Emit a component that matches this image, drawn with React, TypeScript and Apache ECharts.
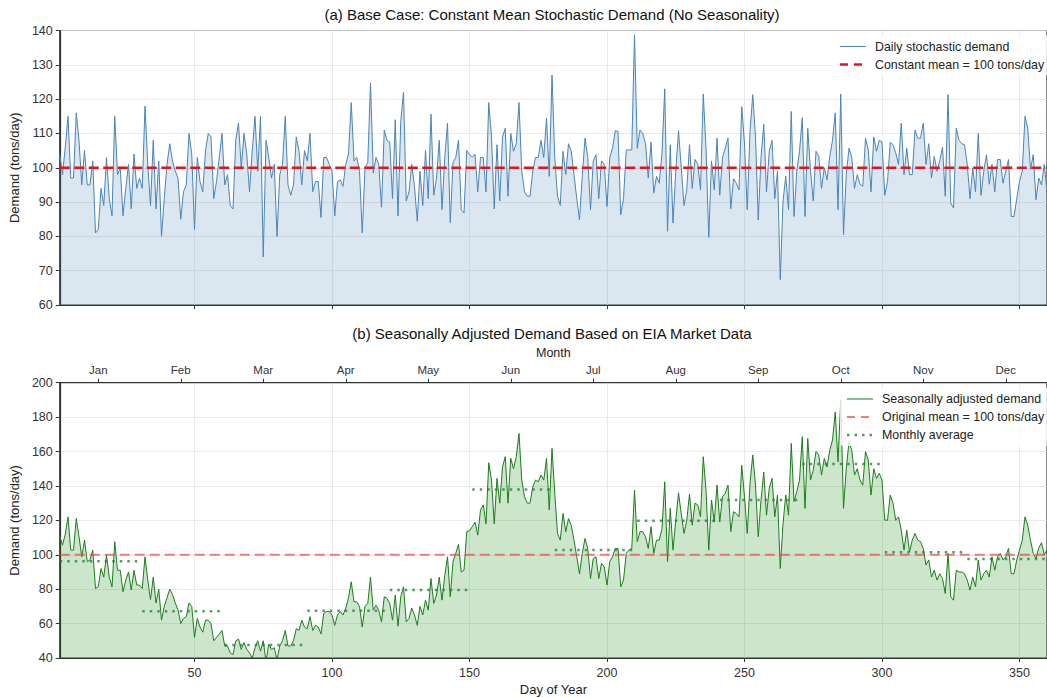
import React, { useEffect, useRef } from "react";
import * as echarts from "echarts";

// ---------------- data ----------------
const baseDemand: number[] = [
  104, 98, 106, 115, 97, 97, 116, 108, 95, 105,
  95, 95, 102, 81, 82, 94, 89, 103, 91, 86,
  115, 98, 100, 86, 94, 101, 88, 104, 94, 97,
  94, 118, 101, 89, 108, 88, 102, 80, 91, 101,
  107, 102, 99, 97, 85, 93, 95, 110, 104, 82,
  103, 96, 93, 105, 110, 109, 91, 96, 103, 110,
  95, 98, 89, 88, 108, 113, 100, 110, 104, 93,
  105, 115, 99, 115, 74, 108, 103, 97, 101, 80,
  98, 101, 115, 95, 92, 95, 109, 105,
  95, 105, 102, 110, 93, 96, 96, 85.5, 103, 103,
  101, 99, 86, 96, 96.5, 94.6, 101, 104, 119, 102,
  103, 99, 81, 100, 101.5, 124.7, 98.5, 103, 101, 88.5,
  111, 108, 107.5, 91, 114, 86, 113.5, 122, 90.3, 93,
  101, 94.5, 84.4, 99, 89, 105, 91, 115.6, 92, 97,
  108, 87.8, 103, 113, 84, 101.5, 103, 108, 87.8, 86.8,
  105, 103.8, 103, 104, 93, 103, 103, 93, 119, 109,
  88, 106.7, 90.3, 109, 111.5, 91.7, 110, 104.8, 107, 119,
  99, 93, 91.7, 91.7, 99, 103, 103, 108, 103, 114.5,
  97.5, 127, 103, 91.7, 89, 104.8, 98, 107, 104.8, 98,
  91, 84.8, 97.5, 108.6, 103, 87.8, 102, 103.8, 91, 102,
  101, 88.7, 103, 105.7, 110.8, 110.6, 86.3, 91, 105.2, 105.2,
  105.2, 138.7, 105.7, 111, 110, 107, 97, 107.5, 92.6, 97.5,
  95.5, 104.3, 123, 81.5, 106.7, 83.9, 99, 110.8, 100, 89,
  93.6, 106.7, 94, 102.4, 101, 93.6, 121.5, 105.7, 79.7, 102,
  93.6, 108.6, 92, 103, 105.7, 108.6, 88, 96.8, 95.5, 93.6,
  117.8, 107, 87.8, 110.6, 121.3, 109, 84.8, 103, 112.7, 93,
  104.8, 108, 91, 99, 67.4, 90.3, 97.5, 87.8, 116.4, 85.8,
  99, 104.8, 114.6, 85.8, 111.5, 99, 90.3, 104.8, 103.3, 94,
  100, 96.5, 103.3, 108, 116, 87.8, 121.5, 80.5, 98, 105.7,
  103, 94, 98, 95.2, 94.6, 108.6, 105.2, 93, 109, 104.8,
  108, 107.5, 92, 96, 107.4, 106.7, 104.3, 101, 113, 98,
  105.7, 98, 98, 111, 108.6, 108.6, 113, 101, 107, 97,
  103.3, 99, 102, 106, 91.7, 121.3, 89.7, 88.3, 111.5, 108,
  107, 106.7, 101, 91, 100, 93, 110, 92, 99, 103.8,
  95.2, 101, 93, 102.4, 102.4, 95.5, 99, 102.4, 85.8, 85.8,
  91, 96, 99, 115, 111.5, 99.5, 103.8, 90.7, 97,
  95, 101, 93, 104, 98, 96, 102, 99,
];

const seasonalDemand: number[] = [
  111, 105.6, 112, 122, 102.7, 102.7, 121, 110.5, 98.8, 108.5,
  96, 97, 102.7, 80.4, 81.4, 92, 87, 99.8, 87, 81.4,
  107.6, 91, 91, 78.5, 85.3, 90, 79.5, 91, 82.4, 82.4,
  80.4, 98.8, 85.3, 74, 87, 72, 80, 62, 70, 75,
  80, 77, 72, 68, 60, 63, 64, 72, 70, 52,
  63, 58, 55, 62, 62, 60, 50, 52, 54, 56,
  47, 47, 43, 42, 50, 51, 45, 49, 45, 43,
  40, 46, 50, 44, 50, 38, 48, 45, 46, 39,
  47, 50, 56, 47, 47, 50, 57, 56,
  62, 58, 57, 64, 56, 59, 58, 54, 66, 67,
  67, 65, 59, 65, 67, 65, 69, 75, 84.3, 72.7,
  72.7, 70, 58, 70, 71.7, 87, 67.8, 70.7, 67.8, 61,
  75.6, 74.6, 71.7, 62, 76.6, 58.5, 75.6, 81.4, 61, 63,
  69, 65, 59, 70, 65, 73.6, 67.8, 86.2, 71.7, 76.6,
  87, 73.6, 88, 98.8, 75.6, 96, 100.8, 106, 90, 91,
  113.4, 114, 116.3, 119, 111.4, 126, 129, 118, 153.5, 143.4,
  118, 144.4, 130, 151, 157, 130, 156, 150, 157, 170.5,
  143.4, 133.7, 130, 130, 139.5, 143.4, 142.4, 146.3, 143.4, 156,
  126, 161.8, 135.7, 112.4, 108.5, 124, 113.4, 121, 117, 108.5,
  98.8, 89, 100.8, 109.5, 103.7, 86.2, 97.8, 98.8, 86.2, 95,
  93, 82.4, 96, 98.8, 103.7, 103.7, 81.4, 85.3, 100.8, 102.7,
  103.7, 137.6, 107.6, 113.4, 113.4, 110.5, 103.7, 116.3, 100.8, 108.5,
  108.5, 115.3, 142.4, 96, 127, 102.7, 120, 136, 124, 112.4,
  120, 135.3, 117.2, 130, 129, 122, 157, 137.6, 102.7, 131.8,
  119, 140.5, 119, 133.7, 135.7, 140.5, 113.4, 125, 124, 122,
  152, 133.7, 112.4, 141.5, 158, 140.5, 110.5, 131.8, 148, 123,
  138.6, 144.4, 122, 134.7, 92, 118, 134.7, 123, 164.7, 131,
  136.6, 143.4, 168.6, 127, 167.6, 143.4, 149.2, 160, 158, 146.3,
  156, 151, 160.8, 166.7, 183, 154, 190, 127, 150, 165.7,
  160.8, 146.3, 150, 143.4, 140.5, 160, 155, 134.7, 150, 144.4,
  147.3, 143.4, 120.2, 120, 134.7, 130, 120, 122, 114.3, 102.7,
  114.3, 101.7, 108.5, 112.4, 108.5, 107.6, 103.7, 94, 97, 87,
  91, 85.3, 89, 86.2, 77.5, 100.8, 75.6, 73.6, 91, 90,
  90, 89, 85.3, 79.5, 87, 81.4, 97, 85.3, 89, 91,
  87, 98.8, 91, 98.8, 100.8, 97, 98.8, 103.7, 89, 89,
  97, 102.7, 108.5, 122, 117, 108.5, 100.8, 97.8,
  104, 107, 100, 103, 98, 101, 96, 104, 100,
];

const baseMean = 100;
const monthNames = ["Jan", "Feb", "Mar", "Apr", "May", "Jun", "Jul", "Aug", "Sep", "Oct", "Nov", "Dec"];
const monthCenters = [15, 45, 75, 105, 135, 165, 195, 225, 255, 285, 315, 345];
const monthStarts = [1, 31, 61, 91, 121, 151, 181, 211, 241, 271, 301, 331];
const monthEnds = [30, 60, 90, 120, 150, 180, 210, 240, 270, 300, 330, 365];
const monthlyAvg = [96.3, 67.2, 47.5, 67.4, 79.5, 138, 102.7, 119.8, 131.8, 152.7, 101.4, 97.5];
const dayTicks = [50, 100, 150, 200, 250, 300, 350];
const topYTicks = { min: 60, max: 140, step: 10 };
const botYTicks = { min: 40, max: 200, step: 20 };

const FONT = "'Liberation Sans', Arial, Helvetica, sans-serif";

export default function App() {
  const ref = useRef<HTMLDivElement>(null);

  useEffect(() => {
    document.body.style.margin = "0";
    if (!ref.current) return;
    const chart = echarts.init(ref.current, undefined, { renderer: "svg" });

    const days = baseDemand.map((_, i) => i + 1);
    const topData = baseDemand.map((v, i) => [days[i], v]);
    const botData = seasonalDemand.map((v, i) => [i + 1, v]);
    const avgData: any[] = [];
    monthlyAvg.forEach((v, i) => {
      avgData.push([monthStarts[i], v]);
      avgData.push([monthEnds[i], v]);
      avgData.push([monthEnds[i] + 0.5, "-"]);
    });

    const spine = { show: true, onZero: false, lineStyle: { color: "#333", width: 1.2 } };
    const gridLine = { color: "#e4e4e4", width: 0.8 };
    const tickStyle = { color: "#333", width: 1 };
    const tickFont = { fontSize: 12.5, color: "#333", fontFamily: FONT };

    const legendText = (x: number, y: number, text: string) => ({
      type: "text",
      x,
      y,
      z: 101,
      style: { text, fontSize: 12.4, fontFamily: FONT, fill: "#222", align: "left", verticalAlign: "middle" },
    });

    const option: any = {
      animation: false,
      textStyle: { fontFamily: FONT },
      grid: [
        { left: 57, right: -8.4, top: 30.5, height: 274.5, show: true, borderColor: "#333", borderWidth: 1.2, backgroundColor: "transparent" },
        { left: 57, right: -8.4, top: 382.7, height: 275.3, show: true, borderColor: "#333", borderWidth: 1.2, backgroundColor: "transparent" },
      ],
      xAxis: [
        {
          gridIndex: 0, type: "value", min: 1, max: 360,
          axisLine: spine,
          axisTick: { show: true, customValues: dayTicks, length: 4, lineStyle: tickStyle },
          axisLabel: { show: false, customValues: dayTicks },
          splitLine: { show: true, lineStyle: gridLine },
        },
        {
          gridIndex: 1, type: "value", min: 1, max: 360,
          axisLine: spine,
          axisTick: { show: true, customValues: dayTicks, length: 4, lineStyle: tickStyle },
          axisLabel: { show: true, customValues: dayTicks, margin: 8, ...tickFont },
          splitLine: { show: true, lineStyle: gridLine },
          name: "Day of Year", nameLocation: "middle", nameGap: 25,
          nameTextStyle: { fontSize: 13, color: "#222", fontFamily: FONT },
        },
        {
          gridIndex: 1, type: "value", position: "top", min: 1, max: 360,
          axisLine: spine,
          axisTick: { show: true, customValues: monthCenters, length: 4, lineStyle: tickStyle },
          axisLabel: {
            show: true, customValues: monthCenters, margin: 7, fontSize: 11.5, color: "#333", fontFamily: FONT,
            formatter: (v: number) => monthNames[monthCenters.indexOf(Math.round(v))] ?? "",
          },
          splitLine: { show: false },
          name: "Month", nameLocation: "middle", nameGap: 23,
          nameTextStyle: { fontSize: 12.5, color: "#222", fontFamily: FONT },
        },
      ],
      yAxis: [
        {
          gridIndex: 0, type: "value", min: topYTicks.min, max: topYTicks.max, interval: topYTicks.step,
          axisLine: spine,
          axisTick: { show: true, length: 4, lineStyle: tickStyle },
          axisLabel: { margin: 7, ...tickFont },
          splitLine: { show: true, lineStyle: gridLine },
          name: "Demand (tons/day)", nameLocation: "middle", nameGap: 34,
          nameTextStyle: { fontSize: 13, color: "#222", fontFamily: FONT },
        },
        {
          gridIndex: 1, type: "value", min: botYTicks.min, max: botYTicks.max, interval: botYTicks.step,
          axisLine: spine,
          axisTick: { show: true, length: 4, lineStyle: tickStyle },
          axisLabel: { margin: 7, ...tickFont },
          splitLine: { show: true, lineStyle: gridLine },
          name: "Demand (tons/day)", nameLocation: "middle", nameGap: 34,
          nameTextStyle: { fontSize: 13, color: "#222", fontFamily: FONT },
        },
      ],
      series: [
        {
          name: "Daily stochastic demand", type: "line", xAxisIndex: 0, yAxisIndex: 0,
          data: topData, symbol: "none", showSymbol: false, clip: true,
          lineStyle: { color: "#4a84b6", width: 1 },
          areaStyle: { color: "rgba(70,130,180,0.2)", opacity: 1, origin: "start" },
          z: 2,
        },
        {
          name: "Constant mean = 100 tons/day", type: "line", xAxisIndex: 0, yAxisIndex: 0,
          data: [[1, baseMean], [365, baseMean]], symbol: "none", clip: true,
          lineStyle: { color: "#e5141b", width: 2.5, type: [10, 4.5] },
          z: 3,
        },
        {
          name: "Seasonally adjusted demand", type: "line", xAxisIndex: 1, yAxisIndex: 1,
          data: botData, symbol: "none", showSymbol: false, clip: true,
          lineStyle: { color: "#1b7d1b", width: 1 },
          areaStyle: { color: "rgba(0,128,0,0.2)", opacity: 1, origin: "start" },
          z: 2,
        },
        {
          name: "Original mean = 100 tons/day", type: "line", xAxisIndex: 1, yAxisIndex: 1,
          data: [[1, baseMean], [365, baseMean]], symbol: "none", clip: true,
          lineStyle: { color: "rgba(238,70,70,0.7)", width: 2, type: [10, 5] },
          z: 3,
        },
        {
          name: "Monthly average", type: "line", xAxisIndex: 1, yAxisIndex: 1,
          data: avgData, symbol: "none", clip: true, connectNulls: false,
          lineStyle: { color: "rgba(34,120,55,0.75)", width: 2.5, type: [2.5, 5] },
          z: 4,
        },
      ],
      graphic: [
        { type: "text", x: 552, y: 14, z: 100, style: { text: "(a) Base Case: Constant Mean Stochastic Demand (No Seasonality)", fontSize: 15, fontFamily: FONT, fill: "#111", align: "center", verticalAlign: "middle" } },
        { type: "text", x: 552, y: 333, z: 100, style: { text: "(b) Seasonally Adjusted Demand Based on EIA Market Data", fontSize: 15, fontFamily: FONT, fill: "#111", align: "center", verticalAlign: "middle" } },
        // top legend
        { type: "rect", z: 100, shape: { x: 832, y: 35, width: 230, height: 40, r: 3 }, style: { fill: "rgba(255,255,255,0.8)", stroke: "none" } },
        { type: "line", z: 101, shape: { x1: 840, y1: 46.5, x2: 866, y2: 46.5 }, style: { stroke: "#4a84b6", lineWidth: 1 } },
        legendText(875, 46.5, "Daily stochastic demand"),
        { type: "line", z: 101, shape: { x1: 840, y1: 64.5, x2: 866, y2: 64.5 }, style: { stroke: "#e5141b", lineWidth: 2.5, lineDash: [8, 6] } },
        legendText(875, 64.5, "Constant mean = 100 tons/day"),
        // bottom legend
        { type: "rect", z: 100, shape: { x: 840, y: 388, width: 220, height: 58, r: 3 }, style: { fill: "rgba(255,255,255,0.8)", stroke: "none" } },
        { type: "line", z: 101, shape: { x1: 847, y1: 399, x2: 873, y2: 399 }, style: { stroke: "#1b7d1b", lineWidth: 1 } },
        legendText(882, 399, "Seasonally adjusted demand"),
        { type: "line", z: 101, shape: { x1: 847, y1: 417, x2: 873, y2: 417 }, style: { stroke: "rgba(238,70,70,0.7)", lineWidth: 2, lineDash: [8, 6] } },
        legendText(882, 417, "Original mean = 100 tons/day"),
        { type: "line", z: 101, shape: { x1: 847, y1: 435, x2: 873, y2: 435 }, style: { stroke: "rgba(34,120,55,0.75)", lineWidth: 2.5, lineDash: [2.5, 5] } },
        legendText(882, 435, "Monthly average"),
      ],
    };

    chart.setOption(option);
    return () => chart.dispose();
  }, []);

  return <div ref={ref} style={{ position: "absolute", left: 0, top: 0, width: 1047, height: 698 }} />;
}
